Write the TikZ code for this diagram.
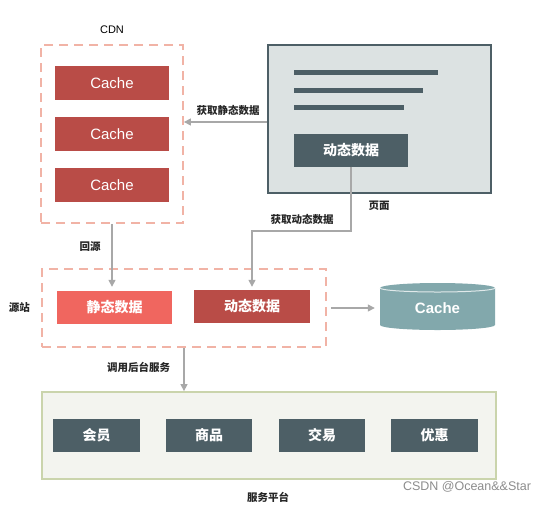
\documentclass[tikz,border=0pt]{standalone}
\usepackage{fontspec}
\setmainfont{Liberation Sans}
\newfontfamily\cjk{Noto Sans CJK SC}
\usetikzlibrary{arrows.meta,calc}
\definecolor{cred}{HTML}{B94C47}
\definecolor{clight}{HTML}{F0665F}
\definecolor{cdash}{HTML}{F1B3A6}
\definecolor{cdark}{HTML}{4D5F66}
\definecolor{cpage}{HTML}{DCE2E2}
\definecolor{cteal}{HTML}{82A8AC}
\definecolor{cplat}{HTML}{F3F4EF}
\definecolor{cplatb}{HTML}{CAD4AC}
\definecolor{cline}{HTML}{A8A8A8}
\tikzset{
  x=1pt,y=-1pt,
  dashbox/.style={draw=cdash,line width=1.8pt,dash pattern=on 9pt off 6pt,inner sep=0pt},
  cachebox/.style={fill=cred,text=white,font=\fontsize{15}{15}\selectfont,inner sep=0pt,minimum width=114pt,minimum height=34pt},
  darkbox/.style={fill=cdark,text=white,font=\cjk\bfseries\fontsize{14}{14}\selectfont,inner sep=0pt,minimum height=33pt},
  lbl/.style={font=\cjk\bfseries\fontsize{10.5}{11}\selectfont,text=black!85},
  conn/.style={draw=cline,line width=1.3pt,-{Triangle[width=7pt,length=7pt]}},
  bar/.style={draw=cdark,line width=5pt},
}
\begin{document}
\begin{tikzpicture}
\useasboundingbox (0,0) rectangle (551,504);
% CDN
\node[dashbox,minimum width=142pt,minimum height=178pt] (cdn) at (112,134) {};
\node[font=\fontsize{11}{11}\selectfont] (cdnl) at (112,30) {CDN};
\node[cachebox] (c1) at (112,83) {Cache};
\node[cachebox] (c2) at (112,134) {Cache};
\node[cachebox] (c3) at (112,185) {Cache};
% Page
\node[draw=cdark,line width=1.8pt,fill=cpage,minimum width=223pt,minimum height=148pt,inner sep=0pt] (page) at (379.5,119) {};
\draw[bar] (294,72.5) -- (438,72.5);
\draw[bar] (294,90) -- (423,90);
\draw[bar] (294,107) -- (404,107);
\node[darkbox,minimum width=114pt] (dynp) at (351,150) {动态数据};
\node[lbl] (pagel) at (379,206) {页面};
% static fetch
\coordinate (sf) at (0,122);
\draw[conn] (page.west |- sf) -- (cdn.east |- sf);
\node[lbl] (sfl) at (228,110) {获取静态数据};
% origin
\node[dashbox,minimum width=284pt,minimum height=78pt] (origin) at (184,308) {};
\node[lbl] (ol) at (19.5,308) {源站};
\node[fill=clight,text=white,font=\cjk\bfseries\fontsize{14}{14}\selectfont,inner sep=0pt,minimum width=115pt,minimum height=33pt] (stat) at (114.5,307.5) {静态数据};
\node[fill=cred,text=white,font=\cjk\bfseries\fontsize{14}{14}\selectfont,inner sep=0pt,minimum width=116pt,minimum height=33pt] (dyno) at (252,306.5) {动态数据};
% back to source
\coordinate (hyend) at ($(stat.north)+(0,-4)$);
\draw[conn] (cdn.south) -- (cdn.south |- hyend);
\node[lbl] (hyl) at (90,247) {回源};
% dynamic fetch
\coordinate (bend) at (0,231);
\draw[conn] (dynp.south) -- (dynp.south |- bend) -| ($(dyno.north)+(0,-3)$);
\node[lbl] (dfl) at (302,219) {获取动态数据};
% cylinder
\fill[cteal] (380,288) -- (380,325) arc[start angle=180,end angle=0,x radius=57.5,y radius=5] -- (495,288) arc[start angle=0,end angle=-180,x radius=57.5,y radius=5] -- cycle;
\draw[white!75!cteal,line width=1pt] (380,288) arc[start angle=180,end angle=0,x radius=57.5,y radius=4];
\node[text=white,font=\fontsize{15}{15}\selectfont\bfseries,minimum width=115pt,minimum height=47pt,inner sep=0pt] (cyl) at (437.5,308) {Cache};
\draw[conn,shorten <=4pt,shorten >=5pt] (origin.east) -- (cyl.west);
% platform
\node[draw=cplatb,line width=1.8pt,fill=cplat,minimum width=454pt,minimum height=87pt,inner sep=0pt] (plat) at (269,435.5) {};
\draw[conn] (origin.south) -- (origin.south |- plat.north);
\node[lbl] (cbl) at (138.5,367) {调用后台服务};
\node[darkbox,minimum width=87pt] (s1) at (96.5,435.5) {会员};
\node[darkbox,minimum width=86pt] (s2) at (209,435.5) {商品};
\node[darkbox,minimum width=86pt] (s3) at (322,435.5) {交易};
\node[darkbox,minimum width=87pt] (s4) at (434.5,435.5) {优惠};
\node[lbl] (pl) at (268,497) {服务平台};
\node[font=\fontsize{12.5}{13}\selectfont,text=black!45] (wm) at (467,487) {CSDN @Ocean\&\&Star};
\end{tikzpicture}
\end{document}
